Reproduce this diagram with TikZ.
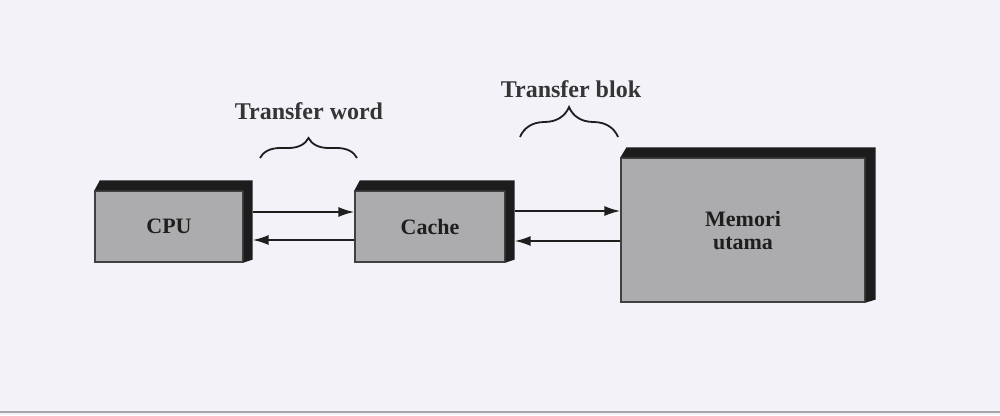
\documentclass[tikz,border=0pt]{standalone}
\usepackage{fontspec}
\setmainfont{Liberation Serif}
\usetikzlibrary{arrows.meta,decorations.pathreplacing,calc}
\definecolor{paper}{RGB}{243,242,248}
\definecolor{face}{RGB}{172,172,174}
\definecolor{edge}{RGB}{28,28,28}
\definecolor{ink}{RGB}{30,30,30}
\tikzset{
  block/.style={draw=ink!85, line width=1.2pt, fill=face, inner sep=0pt,
    font=\fontsize{22}{25}\selectfont\bfseries, text=ink, align=center},
  bus/.style={draw=ink, line width=2pt, -{Latex[length=16pt,width=10pt]}},
  bracemark/.style={draw=ink, line width=1.8pt, decorate,
    decoration={brace, amplitude=#1}},
  caption/.style={font=\fontsize{24}{27}\selectfont\bfseries, text=ink!90}
}
% dark top and right side giving each block its depth
\newcommand{\depthof}[2]{%
  \fill[edge] (#1.north west) -- ++(#2*0.6,-10) -- ($(#1.north east)+(#2,-10)$)
    -- ($(#1.south east)+(#2,-3)$) -- (#1.south east) -- (#1.north east) -- cycle;}
\begin{document}
\begin{tikzpicture}[x=1pt,y=-1pt]
  \fill[paper] (0,0) rectangle (1000,415);
  \useasboundingbox (0,0) rectangle (1000,415);
  \draw[gray!70, line width=2.5pt] (0,412) -- (1000,412);

  % blocks
  \node[block, minimum width=148pt, minimum height=71pt] (cpu) at (169,226.5) {CPU};
  \node[block, minimum width=150pt, minimum height=71pt] (cache) at (430,226.5) {Cache};
  \node[block, minimum width=244pt, minimum height=144pt] (mem) at (743,230) {Memori\\[-2pt]utama};
  \depthof{cpu}{9}
  \depthof{cache}{9}
  \depthof{mem}{10}

  % word transfers between CPU and cache
  \draw[bus] ([xshift=9pt,yshift=14.5pt]cpu.east) coordinate (w1) -- (w1 -| cache.west);
  \draw[bus] ([yshift=-13.5pt]cache.west) coordinate (w2) -- ($(w2 -| cpu.east)+(9,0)$);

  % block transfers between cache and main memory
  \draw[bus] ([xshift=9pt,yshift=15.5pt]cache.east) coordinate (b1) -- (b1 -| mem.west);
  \draw[bus] ([yshift=-14.5pt]mem.west |- cache.east) coordinate (b2) -- ($(b2 -| cache.east)+(9,0)$);

  % braces with their captions
  \draw[bracemark=20pt] (260,158) coordinate (wl) -- (357,158) coordinate (wr);
  \node[caption] (wordlbl) at (309,111) {Transfer word};
  \draw[bracemark=30pt] (520,137) coordinate (bl) -- (618,137) coordinate (br);
  \node[caption] (bloklbl) at (571,89) {Transfer blok};
\end{tikzpicture}
\end{document}
